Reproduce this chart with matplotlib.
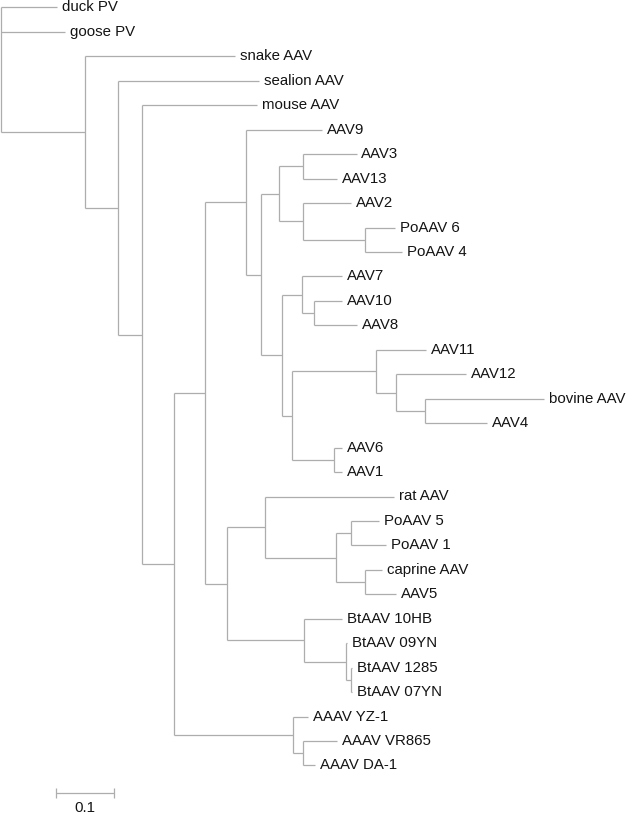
"""Phylogenetic tree of parvoviruses / AAVs."""

import matplotlib

matplotlib.use("Agg")
import matplotlib.pyplot as plt
from matplotlib.collections import LineCollection

# tree in preorder: node name, parent, branch length (substitutions/site)
node_names = [
    "root", "duck PV", "goose PV", "n1", "snake AAV", "n2", "sealion AAV",
    "n3", "mouse AAV", "n4", "n5", "n6", "AAV9", "n7", "n8", "n9", "AAV3",
    "AAV13", "n10", "AAV2", "n11", "PoAAV 6", "PoAAV 4", "n12", "n13", "AAV7",
    "n14", "AAV10", "AAV8", "n15", "n16", "AAV11", "n17", "AAV12", "n18",
    "bovine AAV", "AAV4", "n19", "AAV6", "AAV1", "n20", "n21", "rat AAV",
    "n22", "n23", "PoAAV 5", "PoAAV 1", "n24", "caprine AAV", "AAV5", "n25",
    "BtAAV 10HB", "n26", "BtAAV 09YN", "n27", "BtAAV 1285", "BtAAV 07YN",
    "n28", "AAAV YZ-1", "n29", "AAAV VR865", "AAAV DA-1",
]
node_parents = [
    None, "root", "root", "root", "n1", "n1", "n2",
    "n2", "n3", "n3", "n4", "n5", "n6", "n6", "n7", "n8", "n9",
    "n9", "n8", "n10", "n10", "n11", "n11", "n7", "n12", "n13",
    "n13", "n14", "n14", "n12", "n15", "n16", "n16", "n17", "n17",
    "n18", "n18", "n15", "n19", "n19", "n5", "n20", "n21",
    "n21", "n22", "n23", "n23", "n22", "n24", "n24", "n20",
    "n25", "n25", "n26", "n26", "n27", "n27",
    "n4", "n28", "n28", "n29", "n29",
]
branch_lengths = [
    0.0, 0.097, 0.110, 0.145, 0.259, 0.057, 0.243,
    0.041, 0.198, 0.055, 0.053, 0.072, 0.131, 0.026, 0.031, 0.040, 0.093,
    0.059, 0.040, 0.084, 0.107, 0.052, 0.064, 0.036, 0.034, 0.069,
    0.021, 0.048, 0.074, 0.017, 0.145, 0.086, 0.034, 0.121, 0.050,
    0.205, 0.107, 0.072, 0.014, 0.014, 0.038, 0.067, 0.222,
    0.122, 0.026, 0.048, 0.060, 0.050, 0.029, 0.053, 0.133,
    0.066, 0.072, 0.003, 0.009, 0.002, 0.003,
    0.205, 0.026, 0.017, 0.060, 0.021,
]
scale_length = 0.1
scale_label = "0.1"

LINE = "#adadad"
TEXT = "#141414"
PX_PER_UNIT = 580.0   # 0.1 -> 58 px
ROW_PX = 24.45
TOP_PX = 7.5
W_PX, H_PX = 633, 815

children = {n: [] for n in node_names}
for name, parent in zip(node_names, node_parents):
    if parent is not None:
        children[parent].append(name)

xpos = {}
for name, parent, bl in zip(node_names, node_parents, branch_lengths):
    xpos[name] = bl if parent is None else xpos[parent] + bl

leaves = [n for n in node_names if not children[n]]
ypos = {leaf: i for i, leaf in enumerate(leaves)}
for name in reversed(node_names):
    if children[name]:
        kids = children[name]
        ypos[name] = (ypos[kids[0]] + ypos[kids[-1]]) / 2

segments = []
for name in node_names:
    kids = children[name]
    if not kids:
        continue
    segments.append([(xpos[name], ypos[kids[0]]), (xpos[name], ypos[kids[-1]])])
    for k in kids:
        segments.append([(xpos[name], ypos[k]), (xpos[k], ypos[k])])

plt.rcParams["font.family"] = ["Liberation Sans", "DejaVu Sans"]
fig = plt.figure(figsize=(W_PX / 100, H_PX / 100), dpi=100)
ax = fig.add_axes([0, 0, 1, 1])
ax.set_xlim(-1 / PX_PER_UNIT, (W_PX - 1) / PX_PER_UNIT)
ax.set_ylim((H_PX - TOP_PX) / ROW_PX, -TOP_PX / ROW_PX)
ax.axis("off")

ax.add_collection(LineCollection(segments, colors=LINE, linewidths=0.9))

for leaf in leaves:
    ax.annotate(leaf, (xpos[leaf], ypos[leaf]), xytext=(3.5, 0),
                textcoords="offset points", ha="left", va="center",
                fontsize=10.8, color=TEXT)

# scale bar
sb_x0 = 55 / PX_PER_UNIT
sb_y = (793 - TOP_PX) / ROW_PX
tick = 5 / ROW_PX
ax.add_collection(LineCollection(
    [[(sb_x0, sb_y), (sb_x0 + scale_length, sb_y)],
     [(sb_x0, sb_y - tick), (sb_x0, sb_y + tick)],
     [(sb_x0 + scale_length, sb_y - tick), (sb_x0 + scale_length, sb_y + tick)]],
    colors=LINE, linewidths=0.9))
ax.text(sb_x0 + scale_length / 2, (808 - TOP_PX) / ROW_PX, scale_label,
        ha="center", va="center", fontsize=10.8, color=TEXT)

fig.savefig("out.png", dpi=100)
plt.close(fig)
